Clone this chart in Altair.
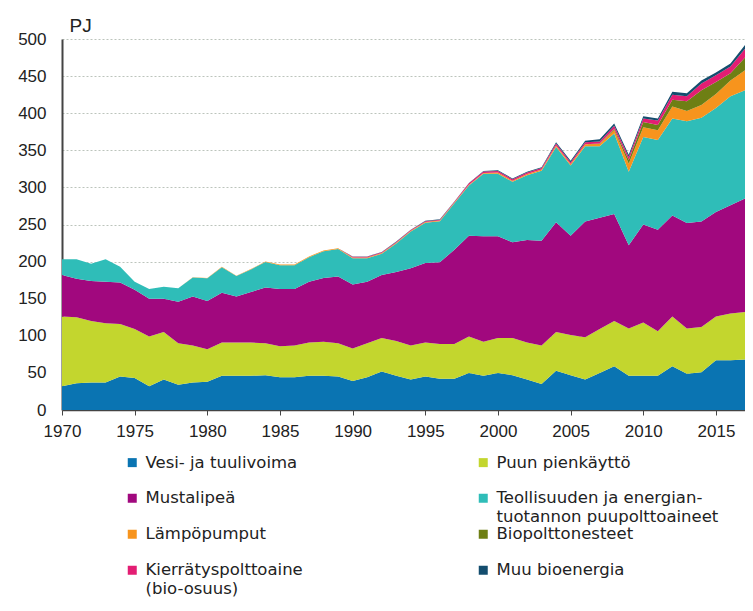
import altair as alt
import pandas as pd

years = list(range(1970, 2018))

# PJ per series
vesi = [32, 36, 37, 37, 45, 43, 32, 41, 34, 37,
        38, 46, 46, 46, 47, 44, 44, 46, 46, 45,
        39, 44, 52, 46, 41, 45, 42, 42, 50, 46,
        50, 47, 41, 35, 53, 47, 41, 50, 59, 46,
        46, 46, 59, 49, 51, 67, 67, 68]
puun = [94, 89, 83, 80, 71, 66, 67, 64, 56, 50,
        44, 45, 45, 45, 43, 42, 43, 45, 46, 45,
        44, 46, 45, 47, 46, 46, 47, 47, 49, 46,
        47, 50, 50, 52, 52, 54, 57, 59, 61, 64,
        72, 60, 67, 61, 61, 59, 63, 64]
musta = [56, 52, 54, 56, 56, 53, 51, 45, 56, 66,
         65, 67, 62, 68, 75, 77, 76, 82, 86, 90,
         86, 83, 85, 93, 104, 107, 110, 127, 136, 142,
         137, 129, 138, 141, 148, 134, 156, 150, 144, 112,
         132, 137, 136, 142, 142, 141, 146, 153]
teollisuus = [21, 26, 23, 30, 21, 11, 13, 16, 18, 25.5,
              30.5, 34.5, 27.5, 30.5, 34.5, 32, 32, 33, 36, 37,
              35.5, 31.5, 28.5, 38.5, 49.5, 54.5, 55.5, 62.5, 67.5, 84.5,
              84.5, 81.5, 87.5, 94.5, 101.5, 94.5, 101.5, 96.5, 108.5, 99,
              118, 121, 131, 137, 140, 140, 147, 146]
lampo = [0, 0, 0, 0, 0, 0, 0, 0, 0, 0.5,
         0.5, 0.5, 0.5, 0.5, 0.5, 1, 1, 1, 1, 1,
         1, 1, 1, 1, 1, 1, 1, 1, 1, 1,
         1.5, 1.5, 1.5, 1.5, 2, 2, 2.5, 3, 5, 11,
         13, 13, 16, 14, 17, 19, 21, 27]
bionesteet = [0, 0, 0, 0, 0, 0, 0, 0, 0, 0,
              0, 0, 0, 0, 0, 0, 0, 0, 0, 0,
              0, 0, 0, 0, 0, 0, 0, 0, 0, 0,
              0, 0, 0, 0, 0, 0, 0, 0.5, 1.5, 5,
              7, 7, 9, 13, 20, 16, 10, 17]
kierratys = [0, 0, 0, 0, 0, 0, 0, 0, 0, 0,
             0, 0, 0, 0, 0, 0, 0, 0, 0, 0,
             1, 1, 1, 1, 1, 1, 1, 1, 2, 2,
             2, 2, 2, 2, 2.5, 2.5, 3, 3, 4, 4,
             5, 6, 7, 7, 9, 9, 9, 12]
muu = [0, 0, 0, 0, 0, 0, 0, 0, 0, 0,
       0, 0, 0, 0, 0, 0, 0, 0, 0, 0,
       0.5, 0.5, 0.5, 0.5, 0.5, 0.5, 0.5, 0.5, 0.5, 0.5,
       1, 1, 1, 1, 2, 2, 2, 3, 3, 3,
       3, 3, 4, 4, 4, 4, 4, 5]

series_names = [
    "Vesi- ja tuulivoima",
    "Puun pienkäyttö",
    "Mustalipeä",
    "Teollisuuden ja energian-|tuotannon puupolttoaineet",
    "Lämpöpumput",
    "Biopolttonesteet",
    "Kierrätyspolttoaine|(bio-osuus)",
    "Muu bioenergia",
]
series_values = [vesi, puun, musta, teollisuus, lampo, bionesteet, kierratys, muu]
colors = ["#0A74B2", "#C3D62E", "#A1087E", "#2FBDB8",
          "#F7941D", "#6E7F14", "#E31D73", "#134D6E"]

x_ticks = list(range(1970, 2016, 5))
y_ticks = list(range(0, 501, 50))

rows = []
for i, (name, vals) in enumerate(zip(series_names, series_values)):
    for yr, v in zip(years, vals):
        rows.append({"Vuosi": yr, "PJ": v, "Sarja": name, "o": i})
df = pd.DataFrame(rows)

FONT = "Liberation Sans"
LEGEND_FONT = "DejaVu Sans"

chart = alt.Chart(df).mark_area(interpolate="linear").encode(
    x=alt.X(
        "Vuosi:Q",
        scale=alt.Scale(domain=[1970, 2017], nice=False, zero=False),
        axis=alt.Axis(
            values=x_ticks, format="d", title=None, grid=False,
            domainColor="#444444", domainWidth=1.5, tickColor="#444444",
            tickSize=5, labelFontSize=17, labelPadding=8, labelColor="#222222",
            labelFont=FONT, labelFlush=False,
        ),
    ),
    y=alt.Y(
        "PJ:Q",
        stack="zero",
        scale=alt.Scale(domain=[0, 500], nice=False),
        axis=alt.Axis(
            values=y_ticks, title="PJ", titleAngle=0, titleAlign="left",
            titleBaseline="alphabetic", titleX=7, titleY=-8,
            titleFontSize=19, titleFontWeight="normal", titleFont=FONT,
            titleColor="#222222",
            tickSize=0, labelPadding=16, labelFontSize=17, labelFont=FONT,
            labelColor="#222222",
            grid=True, gridDash=[2, 2], gridColor="#bcc4bc", gridWidth=1,
            domainColor="#444444", domainWidth=2,
        ),
    ),
    color=alt.Color(
        "Sarja:N",
        scale=alt.Scale(domain=series_names, range=colors),
        legend=alt.Legend(
            title=None, orient="none", legendX=62, legendY=415,
            direction="horizontal", columns=2, gridAlign="all",
            columnPadding=107, rowPadding=0,
            symbolType="square", symbolSize=81, symbolStrokeWidth=0,
            labelFontSize=16.5, labelFont=LEGEND_FONT, labelColor="#222222",
            labelOffset=5, labelLimit=400, padding=0,
            labelExpr="indexof(datum.label, '|') >= 0 ? split(datum.label, '|') : [datum.label, ' ']",
        ),
    ),
    order=alt.Order("o:Q", sort="ascending"),
).properties(
    width=683,
    height=371,
    padding={"left": 54, "top": 31, "right": 0, "bottom": 193},
    autosize="none",
).configure_view(stroke=None)

chart.save("out.html", embed_options={"renderer": "svg", "actions": False})
